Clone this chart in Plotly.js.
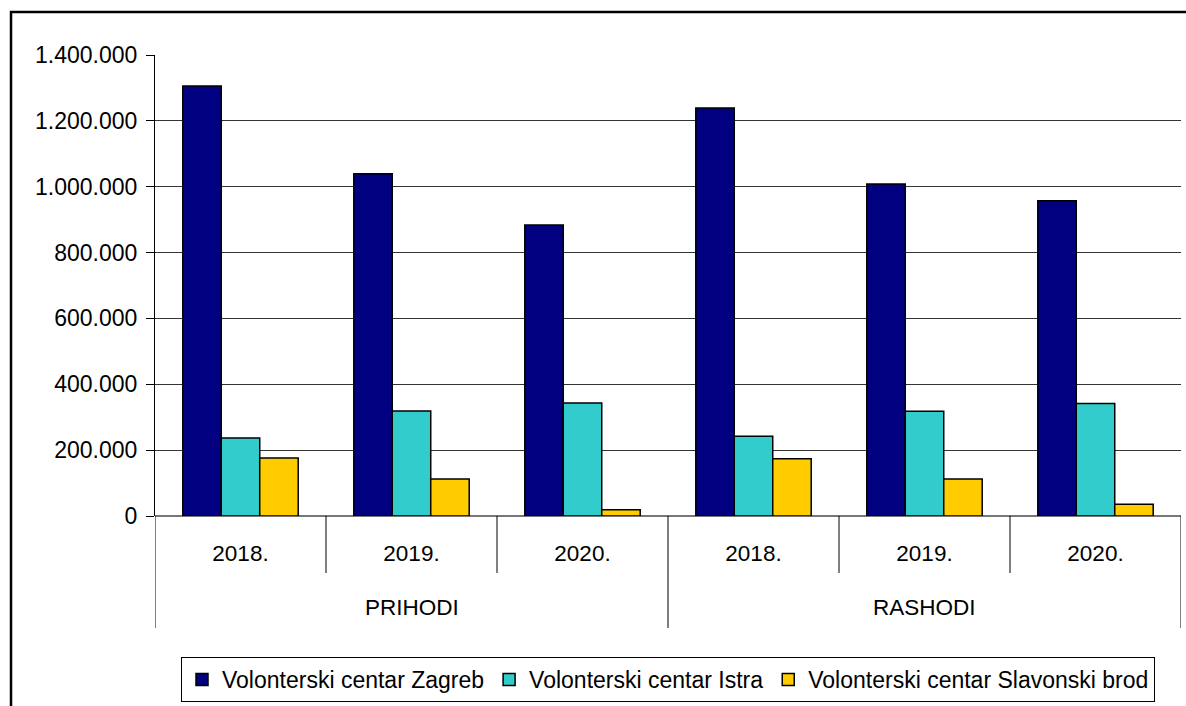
<!DOCTYPE html>
<html>
<head>
<meta charset="utf-8">
<script src="https://cdn.plot.ly/plotly-3.0.1.min.js"></script>
<style>html,body{margin:0;padding:0;background:#fff;}#chart{width:1186px;height:706px;}</style>
</head>
<body>
<div id="chart"></div>
<script>
// ---- data ----
const groups = ["PRIHODI", "RASHODI"];
const years = ["2018.", "2019.", "2020.", "2018.", "2019.", "2020."];
const seriesNames = ["Volonterski centar Zagreb", "Volonterski centar Istra", "Volonterski centar Slavonski brod"];
const zagreb = [1306000, 1039000, 884000, 1239000, 1008000, 957000];
const istra = [237000, 319000, 343000, 242000, 318000, 342000];
const slavonskiBrod = [176000, 112000, 19000, 174000, 112000, 36000];
const yTicks = [0, 200000, 400000, 600000, 800000, 1000000, 1200000, 1400000];

// ---- layout geometry ----
const W = 1186, H = 706;
const M = {l: 155, r: 5, t: 55, b: 190, autoexpand: false};
const plotW = W - M.l - M.r, plotH = H - M.t - M.b;
const py = px => (H - M.b - px) / plotH;   // pixel y -> paper y
const pxx = px => (px - M.l) / plotW;      // pixel x -> paper x

const colors = ["#000080", "#33CCCC", "#FFCC00"];
const xIdx = years.map((_, i) => i);
const allSeries = [zagreb, istra, slavonskiBrod];

const font = "Liberation Sans, Arial, sans-serif";

const traces = allSeries.map((vals, k) => ({
  type: "bar",
  name: seriesNames[k],
  x: xIdx,
  y: vals,
  marker: {color: colors[k], line: {color: "#000", width: 1.5}},
  hoverinfo: "y+name"
}));

const shapes = [];
// category boundary lines
for (let i = 0; i <= years.length; i++) {
  const isGroupEdge = (i % 3 === 0);
  shapes.push({
    type: "line", xref: "x", yref: "paper",
    x0: i - 0.5, x1: i - 0.5,
    y0: 0, y1: isGroupEdge ? py(628) : py(573),
    line: {color: "#000", width: 1}
  });
}
// outer frame
shapes.push({
  type: "rect", xref: "paper", yref: "paper",
  x0: pxx(11), x1: pxx(1200), y0: py(720), y1: py(12),
  line: {color: "#000", width: 2.5}, layer: "below"
});

const annotations = groups.map((g, gi) => ({
  text: g, xref: "x", yref: "paper",
  x: gi * 3 + 1, y: py(607),
  showarrow: false, xanchor: "center", yanchor: "middle",
  font: {family: font, size: 22.5, color: "#000"}
}));

const layout = {
  width: W, height: H,
  margin: M,
  paper_bgcolor: "#fff", plot_bgcolor: "#fff",
  font: {family: font, size: 22, color: "#000"},
  separators: ",.",
  barmode: "group",
  bargap: 0.325,
  bargroupgap: 0,
  showlegend: true,
  legend: {
    orientation: "h",
    x: 0.5, xanchor: "center",
    y: py(657), yanchor: "top",
    bordercolor: "#000", borderwidth: 1,
    font: {family: font, size: 23, color: "#000"},
    itemwidth: 30,
    tracegroupgap: 0
  },
  xaxis: {
    range: [-0.5, years.length - 0.5],
    tickvals: xIdx, ticktext: years,
    ticks: "", showgrid: false, zeroline: false, showline: false,
    tickfont: {family: font, size: 22.5, color: "#000"},
    ticklabelstandoff: 21,
    fixedrange: true
  },
  yaxis: {
    range: [0, 1400000],
    tickvals: yTicks,
    tickformat: ",d",
    ticks: "outside", ticklen: 8, tickcolor: "#000", tickwidth: 1,
    showline: true, linecolor: "#000", linewidth: 1,
    showgrid: true, gridcolor: "#333", gridwidth: 1,
    zeroline: true, zerolinecolor: "#777", zerolinewidth: 2,
    tickfont: {family: font, size: 23, color: "#000"},
    ticklabelstandoff: 4,
    fixedrange: true
  },
  shapes: shapes,
  annotations: annotations
};

Plotly.newPlot("chart", traces, layout, {displayModeBar: false, staticPlot: true});
</script>
</body>
</html>
